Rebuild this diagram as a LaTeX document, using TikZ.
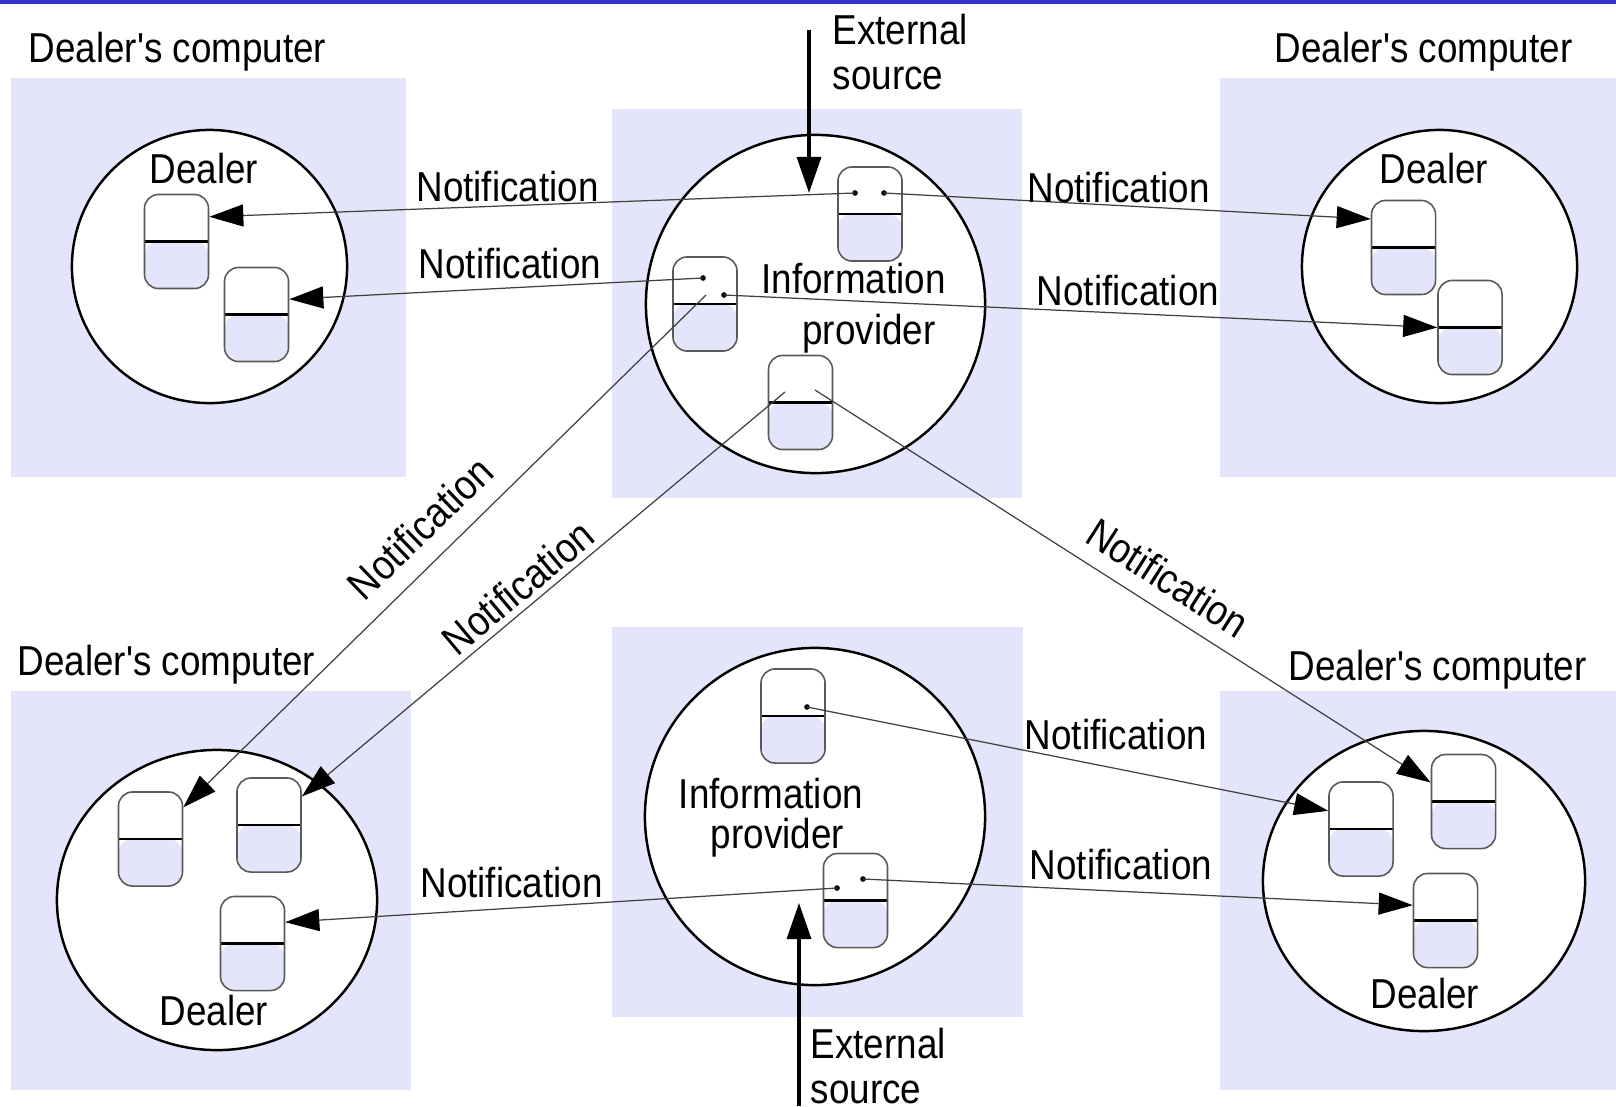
\documentclass[tikz,border=0pt]{standalone}
\usepackage{fontspec}
\setmainfont{Liberation Sans}[FakeStretch=0.88, Ligatures=TeXOff]
\usetikzlibrary{shapes.geometric}
\usetikzlibrary{arrows.meta}
\definecolor{lav}{RGB}{228,228,250}
\definecolor{topbar}{RGB}{55,50,200}
\tikzset{myText/.style={inner sep=0pt, font=\fontsize{11.9}{12.8}\selectfont}}
\tikzset{myHost/.style={ellipse, draw, line width=0.7pt, fill=white, inner sep=0pt}}
\tikzset{myObj/.style={draw=black!65, line width=0.45pt, rounded corners=0.14cm, minimum width=0.64cm, minimum height=0.94cm, inner sep=0pt, fill=white,
  path picture={\fill[lav] (path picture bounding box.west) rectangle (path picture bounding box.south east);
  \draw[black, line width=0.65pt] (path picture bounding box.west) -- (path picture bounding box.east);}}}
\tikzset{myNote/.style={draw=black!75, line width=0.35pt, -{Triangle[length=0.34cm,width=0.22cm,black]}}}
\tikzset{myExt/.style={line width=0.9pt, -{Triangle[length=0.36cm,width=0.24cm]}}}

\begin{document}
\begin{tikzpicture}[x=0.01cm, y=-0.01cm]
\useasboundingbox (0,0) rectangle (1616,1106);
\fill[topbar] (0,0) rectangle (1616,4);

% computers
\fill[lav] (11,78) rectangle (406,477);
\fill[lav] (612,109) rectangle (1022,498);
\fill[lav] (1220,78) rectangle (1616,477);
\fill[lav] (11,691) rectangle (411,1090);
\fill[lav] (612,627) rectangle (1023,1017);
\fill[lav] (1220,691) rectangle (1616,1090);

\node[myText, anchor=base] (t1) at (177.5,62) {Dealer's computer};
\node[myText, anchor=base] (t2) at (1423.5,62) {Dealer's computer};
\node[myText, anchor=base] (t3) at (166.5,675) {Dealer's computer};
\node[myText, anchor=base] (t4) at (1437.5,680) {Dealer's computer};

% processes
\node[myHost, minimum width=2.75cm, minimum height=2.73cm] (h1) at (209.5,266.5) {};
\node[myHost, minimum width=3.39cm, minimum height=3.38cm] (h2) at (815.5,304) {};
\node[myHost, minimum width=2.75cm, minimum height=2.73cm] (h3) at (1439.5,266.5) {};
\node[myHost, minimum width=3.20cm, minimum height=3.00cm] (h4) at (217,900) {};
\node[myHost, minimum width=3.40cm, minimum height=3.37cm] (h5) at (815,816.5) {};
\node[myHost, minimum width=3.22cm, minimum height=3.00cm] (h6) at (1424,881) {};

\node[myText, anchor=base] (d1) at (204,183) {Dealer};
\node[myText, anchor=base] (d2) at (1434,183) {Dealer};
\node[myText, anchor=base] (d3) at (214,1025) {Dealer};
\node[myText, anchor=base] (d4) at (1425,1008) {Dealer};

\node[myText, anchor=base] (ip1) at (853.5,293) {Information};
\node[myText, anchor=base] (ip2) at (869,344) {provider};
\node[myText, anchor=base] (ip3) at (771,808) {Information};
\node[myText, anchor=base] (ip4) at (777.5,848) {provider};

% objects
\node[myObj] (tl1) at (176.5,241.5) {};
\node[myObj] (tl2) at (256.5,314.5) {};
\node[myObj] (tc1) at (870,214) {};
\node[myObj] (tc2) at (705,304) {};
\node[myObj] (tc3) at (800.5,402.5) {};
\node[myObj] (tr1) at (1403.5,247.5) {};
\node[myObj] (tr2) at (1470,327.5) {};
\node[myObj] (bl1) at (150.5,839) {};
\node[myObj] (bl2) at (269,825) {};
\node[myObj] (bl3) at (252.5,943.5) {};
\node[myObj] (bc1) at (793,716) {};
\node[myObj] (bc2) at (855.5,900.5) {};
\node[myObj] (br1) at (1361,829) {};
\node[myObj] (br2) at (1463.5,801.5) {};
\node[myObj] (br3) at (1445.5,920.5) {};

\coordinate (tc1a) at (855,193);
\coordinate (tc1b) at (884,193);
\coordinate (tc2a) at (703,278);
\coordinate (tc2b) at (724,295);
\coordinate (tc2c) at (706,295);
\coordinate (tc3a) at (785,392);
\coordinate (tc3b) at (815,390);
\coordinate (bc1a) at (807,707);
\coordinate (bc2a) at (837,888);
\coordinate (bc2b) at (863,879);
\foreach \p in {tc1a,tc1b,tc2a,tc2b,bc1a,bc2a,bc2b}
  \fill (\p) circle (0.8pt);

% notifications
\draw[myNote] (tc1a) -- (tl1.37);
\draw[myNote] (tc1b) -- (tr1.139);
\draw[myNote] (tc2a) -- (tl2.25);
\draw[myNote] (tc2b) -- (tr2.west);
\draw[myNote] (tc2c) -- (bl1.44);
\draw[myNote] (tc3a) -- (bl2.41);
\draw[myNote] (tc3b) -- (br2.150);
\draw[myNote] (bc1a) -- (br1.151);
\draw[myNote] (bc2a) -- (bl3.33);
\draw[myNote] (bc2b) -- (br3.155);

\node[myText, anchor=base] (n1) at (507.5,201) {Notification};
\node[myText, anchor=base] (n2) at (510,278) {Notification};
\node[myText, anchor=base] (n3) at (1118.5,202) {Notification};
\node[myText, anchor=base] (n4) at (1128,305) {Notification};
\node[myText, rotate=44] (n5) at (420,528) {Notification};
\node[myText, rotate=40] (n6) at (518,587) {Notification};
\node[myText, rotate=-32.5] (n7) at (1168,578) {Notification};
\node[myText, anchor=base] (n8) at (511.5,897) {Notification};
\node[myText, anchor=base] (n9) at (1116,749) {Notification};
\node[myText, anchor=base] (n10) at (1121,879) {Notification};

% external sources
\coordinate (srcA) at (809,30);
\coordinate (srcAend) at (809,193);
\coordinate (srcB) at (799,1106);
\coordinate (srcBend) at (799,903);
\draw[myExt] (srcA) -- (srcAend);
\draw[myExt] (srcB) -- (srcBend);
\node[myText, align=left, anchor=north west] (ex1) at (832,13) {External\\source};
\node[myText, align=left, anchor=north west] (ex2) at (810,1027) {External\\source};

\end{tikzpicture}
\end{document}
